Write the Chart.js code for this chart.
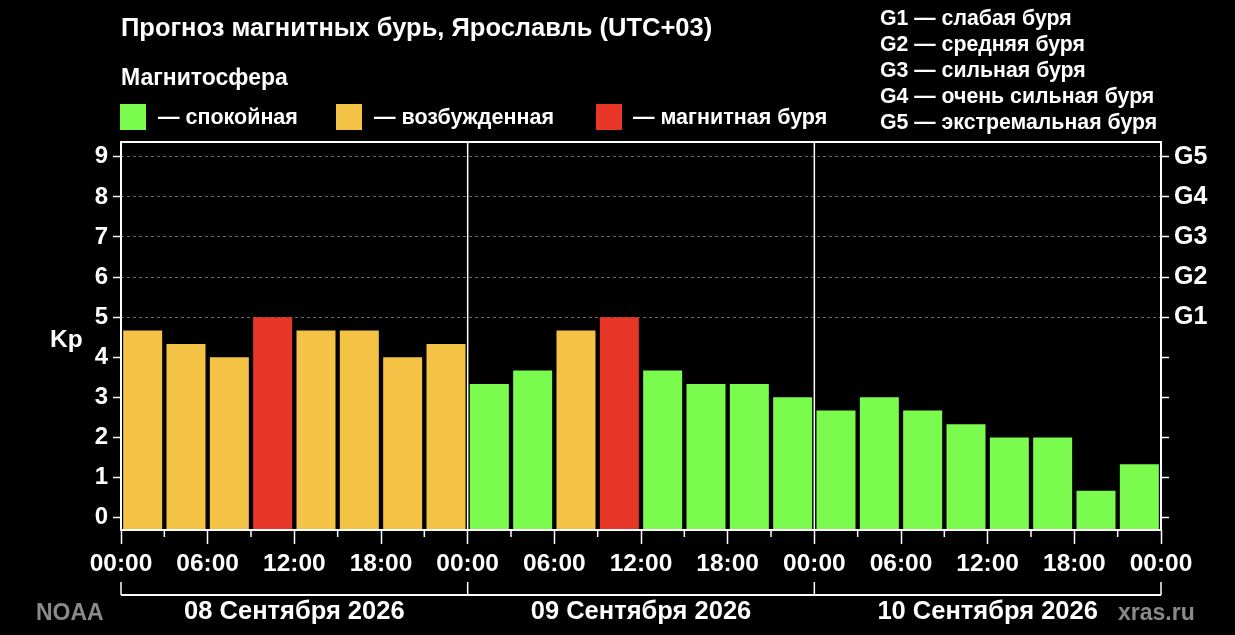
<!DOCTYPE html>
<html lang="ru">

<head>
    <meta charset="UTF-8">
    <title>Прогноз магнитных бурь, Ярославль</title>
    <script src="https://cdn.jsdelivr.net/npm/chart.js"></script>
    <style>
        body {
            margin: 0;
            background: #000;
            color: #fff;
            font-family: "Liberation Sans", Arial, sans-serif;
            font-weight: bold;
        }

        #wrap {
            position: relative;
            width: 1235px;
            height: 635px;
            overflow: hidden;
        }

        #kpChart {
            position: absolute;
            left: 0;
            top: 0;
        }

        .txt {
            position: absolute;
            white-space: nowrap;
            line-height: 1;
        }

        .sq {
            position: absolute;
            width: 26px;
            height: 26px;
        }

        .gray {
            color: #8a8a8a;
        }
    </style>
</head>

<body>
    <div id="wrap">
        <canvas id="kpChart" width="1235" height="635"></canvas>

        <div class="txt" style="left:121px; top:15px; font-size:25.5px;">Прогноз магнитных бурь, Ярославль (UTC+03)</div>
        <div class="txt" style="left:121px; top:66px; font-size:23px;">Магнитосфера</div>

        <!-- legend of colours -->
        <div class="sq" style="left:120px; top:104px; background:#7cfb4f;"></div>
        <div class="txt" style="left:158px; top:107px; font-size:21.5px;">— спокойная</div>
        <div class="sq" style="left:336px; top:104px; background:#f4c245;"></div>
        <div class="txt" style="left:374px; top:107px; font-size:21.5px;">— возбужденная</div>
        <div class="sq" style="left:596px; top:104px; background:#e83628;"></div>
        <div class="txt" style="left:633px; top:107px; font-size:21.5px;">— магнитная буря</div>

        <!-- storm levels -->
        <div class="txt" style="left:880px; top:5px; font-size:21.3px; line-height:26px;">
            G1 — слабая буря<br>G2 — средняя буря<br>G3 — сильная буря<br>G4 — очень сильная буря<br>G5 — экстремальная буря
        </div>

        <div class="txt" style="left:50px; top:327px; font-size:24.5px;">Kp</div>
        <div class="txt gray" style="left:36px; top:601px; font-size:23px;">NOAA</div>
        <div class="txt gray" style="left:1118px; top:601px; font-size:23px;">xras.ru</div>
    </div>

    <script>
        // Kp forecast, 3-hour intervals, 08-10 September
        const KP = [4.67, 4.33, 4.0, 5.0, 4.67, 4.67, 4.0, 4.33,
            3.33, 3.67, 4.67, 5.0, 3.67, 3.33, 3.33, 3.0,
            2.67, 3.0, 2.67, 2.33, 2.0, 2.0, 0.67, 1.33];
        const HOUR_STEP = 3;
        const X_LABELS = ["00:00", "06:00", "12:00", "18:00", "00:00", "06:00", "12:00",
            "18:00", "00:00", "06:00", "12:00", "18:00", "00:00"];
        const DAYS = ["08 Сентября 2026", "09 Сентября 2026", "10 Сентября 2026"];
        const Y_TICKS = [0, 1, 2, 3, 4, 5, 6, 7, 8, 9];
        const G_LABELS = ["", "", "", "", "", "G1", "G2", "G3", "G4", "G5"];
        const Y_MIN = -0.31;
        const Y_MAX = 9.37;

        const GREEN = "#7cfb4f";
        const YELLOW = "#f4c245";
        const RED = "#e83628";

        const points = KP.map((v, i) => ({ x: i * HOUR_STEP + HOUR_STEP / 2, y: v }));

        function barColor(ctx) {
            const v = ctx.raw ? ctx.raw.y : 0;
            if (v >= 5) return RED;
            if (v >= 4) return YELLOW;
            return GREEN;
        }

        const FONT = "'Liberation Sans', Arial, sans-serif";

        // frame, day dividers, small ticks and the date bracket
        const decorPlugin = {
            id: "decor",
            afterDraw(chart) {
                const ctx = chart.ctx;
                const a = chart.chartArea;
                const x = chart.scales.x;
                const hours = KP.length * HOUR_STEP;
                ctx.save();
                ctx.strokeStyle = "#fff";

                // day dividers
                ctx.lineWidth = 1.5;
                for (let h = 24; h < hours; h += 24) {
                    const px = x.getPixelForValue(h);
                    ctx.beginPath();
                    ctx.moveTo(px, a.top);
                    ctx.lineTo(px, a.bottom);
                    ctx.stroke();
                }

                // short ticks between the labelled ones
                for (let h = HOUR_STEP; h < hours; h += 6) {
                    const px = x.getPixelForValue(h);
                    ctx.beginPath();
                    ctx.moveTo(px, a.bottom);
                    ctx.lineTo(px, a.bottom + 7);
                    ctx.stroke();
                }

                // frame
                ctx.lineWidth = 2;
                ctx.strokeRect(a.left, a.top, a.right - a.left, a.bottom - a.top);

                // date bracket
                const by = 595;
                ctx.beginPath();
                ctx.moveTo(x.getPixelForValue(0), by);
                ctx.lineTo(x.getPixelForValue(hours), by);
                ctx.stroke();
                ctx.lineWidth = 1.5;
                for (let h = 0; h <= hours; h += 24) {
                    const px = x.getPixelForValue(h);
                    ctx.beginPath();
                    ctx.moveTo(px, by);
                    ctx.lineTo(px, by - 13);
                    ctx.stroke();
                }

                ctx.fillStyle = "#fff";
                ctx.font = "bold 25.5px " + FONT;
                ctx.textAlign = "center";
                ctx.textBaseline = "middle";
                DAYS.forEach((d, i) => {
                    ctx.fillText(d, x.getPixelForValue(i * 24 + 12), 612);
                });
                ctx.restore();
            }
        };

        const ctx = document.getElementById("kpChart").getContext("2d");
        const kpChart = new Chart(ctx, {
            type: "bar",
            data: {
                datasets: [{
                    data: points,
                    backgroundColor: barColor,
                    borderWidth: 0,
                    barPercentage: 0.9,
                    categoryPercentage: 1.0,
                    base: Y_MIN,
                    yAxisID: "y"
                }]
            },
            options: {
                responsive: false,
                animation: false,
                layout: { padding: { top: 142, left: 0, right: 0, bottom: 0 } },
                plugins: {
                    legend: { display: false },
                    tooltip: { enabled: false }
                },
                scales: {
                    x: {
                        type: "linear",
                        min: 0,
                        max: KP.length * HOUR_STEP,
                        offset: false,
                        afterFit: s => { s.height = 105; },
                        grid: {
                            offset: false,
                            drawOnChartArea: false,
                            tickLength: 14,
                            tickColor: "#fff",
                            tickWidth: 1.5
                        },
                        border: { display: false },
                        ticks: {
                            stepSize: 6,
                            autoSkip: false,
                            maxRotation: 0,
                            padding: 6,
                            color: "#fff",
                            font: { family: FONT, size: 24.5, weight: "bold" },
                            callback: (v) => X_LABELS[Math.round(v / 6)]
                        }
                    },
                    y: {
                        position: "left",
                        min: Y_MIN,
                        max: Y_MAX,
                        afterFit: s => { s.width = 121; },
                        afterBuildTicks: s => { s.ticks = Y_TICKS.map(v => ({ value: v })); },
                        grid: {
                            color: c => (c.tick && c.tick.value >= 5 ? "#6a6a6a" : "rgba(0,0,0,0)"),
                            lineWidth: 1,
                            tickColor: "#fff",
                            tickLength: 8,
                            tickWidth: 1.5,
                            tickBorderDash: []
                        },
                        border: { display: false, dash: [3, 3] },
                        ticks: {
                            padding: 5,
                            color: "#fff",
                            font: { family: FONT, size: 24, weight: "bold" },
                            callback: v => String(v)
                        }
                    },
                    g: {
                        position: "right",
                        min: Y_MIN,
                        max: Y_MAX,
                        afterFit: s => { s.width = 74; },
                        afterBuildTicks: s => { s.ticks = Y_TICKS.map(v => ({ value: v })); },
                        grid: {
                            drawOnChartArea: false,
                            tickColor: "#fff",
                            tickLength: 8,
                            tickWidth: 1.5
                        },
                        border: { display: false },
                        ticks: {
                            padding: 5,
                            color: "#fff",
                            font: { family: FONT, size: 25, weight: "bold" },
                            callback: v => G_LABELS[v]
                        }
                    }
                }
            },
            plugins: [decorPlugin]
        });
    </script>
</body>

</html>
